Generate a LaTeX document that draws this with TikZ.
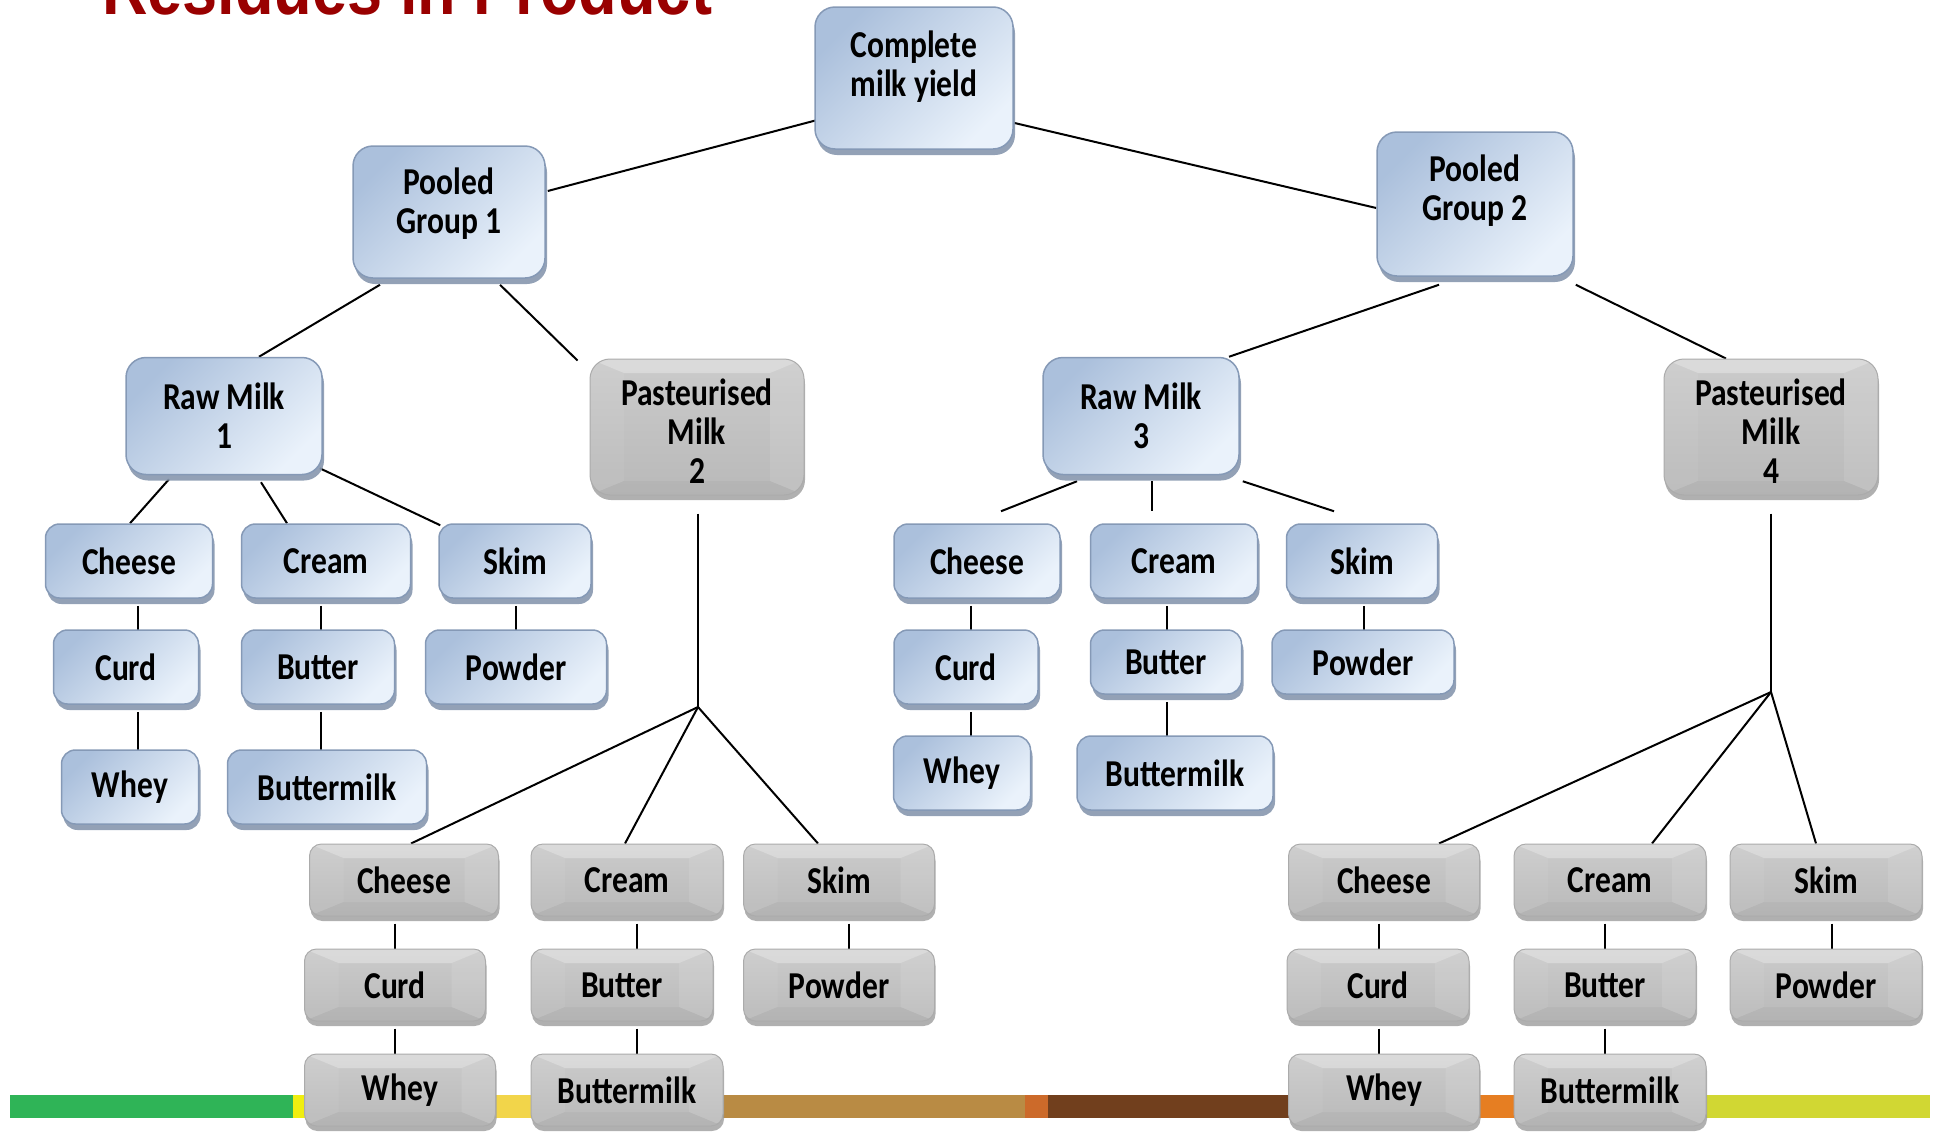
\documentclass[tikz,border=0pt]{standalone}
\usepackage{fontspec}
\setmainfont{Carlito}[FakeStretch=0.83]
\newfontfamily\headfont{Liberation Sans}[FakeStretch=0.83]
\usetikzlibrary{calc,shadows,backgrounds}

\definecolor{titleRed}{HTML}{990000}
\definecolor{blueDark}{HTML}{ABC0DC}
\definecolor{blueLight}{HTML}{EAF2FB}
\definecolor{blueRim}{HTML}{8599B6}
\definecolor{blueShadow}{HTML}{8797AE}
\definecolor{greyTop}{HTML}{CBCBCB}
\definecolor{greyBottom}{HTML}{B9B9B9}
\definecolor{greyRim}{HTML}{ABABAB}
\definecolor{greyShadow}{HTML}{9C9C9C}
\definecolor{barGreen}{HTML}{2FB457}
\definecolor{barYellow}{HTML}{F0EE10}
\definecolor{barLightYellow}{HTML}{F2D54A}
\definecolor{barTan}{HTML}{B98B44}
\definecolor{barOrange}{HTML}{CC6A2A}
\definecolor{barBrown}{HTML}{713F1D}
\definecolor{barOrangeB}{HTML}{E67E22}
\definecolor{barLime}{HTML}{D1D733}

\newcommand{\vlink}[3]{%
  \draw ([xshift=#3pt,yshift=-7pt]#1.south) -- ([xshift=#3pt,yshift=-7pt]#1.south |- #2.north);}

\tikzset{
  boxtext/.style={font=\fontsize{38}{39}\selectfont\bfseries, align=center,
    inner sep=0pt, text=black},
  wd/.style={minimum width=#1pt},
  ht/.style={minimum height=#1pt},
  bluebox/.style={boxtext, rounded corners=14pt, draw=blueRim, line width=1.5pt,
    left color=blueDark, right color=blueLight, shading angle=45,
    drop shadow={shadow xshift=2pt, shadow yshift=-6pt, fill=blueShadow, opacity=0.9}},
  bigblue/.style={bluebox, rounded corners=20pt},
  smallblue/.style={bluebox, ht=74},
  greybox/.style={boxtext, rounded corners=12pt, draw=greyRim, line width=1pt,
    top color=greyTop, bottom color=greyBottom,
    drop shadow={shadow xshift=1pt, shadow yshift=-5pt, fill=greyShadow, opacity=0.8},
    path picture={
      \fill[sharp corners, white, opacity=.30]
        (path picture bounding box.north west) -- (path picture bounding box.north east)
        -- ([xshift=-34pt,yshift=-14pt]path picture bounding box.north east)
        -- ([xshift=34pt,yshift=-14pt]path picture bounding box.north west) -- cycle;
      \fill[sharp corners, white, opacity=.10]
        (path picture bounding box.north east)
        -- ([xshift=-34pt,yshift=-14pt]path picture bounding box.north east)
        -- ([xshift=-34pt,yshift=14pt]path picture bounding box.south east)
        -- (path picture bounding box.south east) -- cycle;
      \fill[sharp corners, white, opacity=.06]
        (path picture bounding box.north west)
        -- ([xshift=34pt,yshift=-14pt]path picture bounding box.north west)
        -- ([xshift=34pt,yshift=14pt]path picture bounding box.south west)
        -- (path picture bounding box.south west) -- cycle;
      \fill[sharp corners, black, opacity=.03]
        (path picture bounding box.south west) -- (path picture bounding box.south east)
        -- ([xshift=-34pt,yshift=14pt]path picture bounding box.south east)
        -- ([xshift=34pt,yshift=14pt]path picture bounding box.south west) -- cycle;
    }},
  biggrey/.style={greybox, rounded corners=20pt},
  smallgrey/.style={greybox, ht=72},
  link/.style={draw=black, line width=2pt},
}

\begin{document}
\begin{tikzpicture}[x=1pt, y=-1pt]
\useasboundingbox (0,0) rectangle (1937,1138);

% heading, cut by the top edge
\node[anchor=base west, inner sep=0pt, text=titleRed,
      font=\headfont\fontsize{76}{80}\selectfont\bfseries] (title) at (102,14)
      {Residues in Product};

% ---- top levels
\node[bigblue, wd=198, ht=142, text depth=29pt] (cmy)  at (914,78)   {Complete\\milk yield};
\node[bigblue, wd=192, ht=132, text depth=23pt] (pg1)  at (449,212)  {Pooled\\Group 1};
\node[bigblue, wd=196, ht=144, text depth=33pt] (pg2)  at (1475,204) {Pooled\\Group 2};
\node[bigblue, wd=196, ht=117] (raw1) at (224,416)  {Raw Milk\\1};
\node[bigblue, wd=196, ht=117] (raw3) at (1141,416) {Raw Milk\\3};
\node[biggrey, wd=214, ht=136, text height=113pt] (past2) at (697,427)  {Pasteurised\\Milk\\2};
\node[biggrey, wd=214, ht=136, text height=113pt] (past4) at (1771,427) {Pasteurised\\Milk\\4};

% ---- raw milk 1 products
\node[smallblue, wd=167] (cheese1) at (129,561) {Cheese};
\node[smallblue, wd=169] (cream1)  at (326,561) {Cream};
\node[smallblue, wd=152] (skim1)   at (515,561) {Skim};
\node[smallblue, wd=145] (curd1)   at (126,667) {Curd};
\node[smallblue, wd=153] (butter1) at (318,667) {Butter};
\node[smallblue, wd=181] (powder1) at (516,667) {Powder};
\node[smallblue, wd=137] (whey1)   at (130,787) {Whey};
\node[smallblue, wd=199] (bmilk1)  at (327,787) {Buttermilk};

% ---- raw milk 3 products
\node[smallblue, wd=166] (cheese3) at (977,561)  {Cheese};
\node[smallblue, wd=167] (cream3)  at (1174,561) {Cream};
\node[smallblue, wd=151] (skim3)   at (1362,561) {Skim};
\node[smallblue, wd=144] (curd3)   at (966,667)  {Curd};
\node[smallblue, wd=151, ht=64] (butter3) at (1166,662) {Butter};
\node[smallblue, wd=182, ht=64] (powder3) at (1363,662) {Powder};
\node[smallblue, wd=137] (whey3)   at (962,773)  {Whey};
\node[smallblue, wd=196] (bmilk3)  at (1175,773) {Buttermilk};

% ---- pasteurised milk 2 products
\node[smallgrey, wd=189] (cheese2) at (404,880)  {Cheese};
\node[smallgrey, wd=192] (cream2)  at (627,880)  {Cream};
\node[smallgrey, wd=191] (skim2)   at (839,880)  {Skim};
\node[smallgrey, wd=181] (curd2)   at (395,985)  {Curd};
\node[smallgrey, wd=182] (butter2) at (622,985)  {Butter};
\node[smallgrey, wd=191] (powder2) at (839,985)  {Powder};
\node[smallgrey, wd=191] (whey2)   at (400,1090) {Whey};
\node[smallgrey, wd=192] (bmilk2)  at (627,1090) {Buttermilk};

% ---- pasteurised milk 4 products
\node[smallgrey, wd=191] (cheese4) at (1384,880)  {Cheese};
\node[smallgrey, wd=192] (cream4)  at (1610,880)  {Cream};
\node[smallgrey, wd=192] (skim4)   at (1826,880)  {Skim};
\node[smallgrey, wd=182] (curd4)   at (1378,985)  {Curd};
\node[smallgrey, wd=182] (butter4) at (1605,985)  {Butter};
\node[smallgrey, wd=192] (powder4) at (1826,985)  {Powder};
\node[smallgrey, wd=191] (whey4)   at (1384,1090) {Whey};
\node[smallgrey, wd=192] (bmilk4)  at (1610,1090) {Buttermilk};

\coordinate (j2) at (698,707);
\coordinate (j4) at (1771,692);

\begin{scope}[on background layer]
  % colour band along the bottom
  \fill[barGreen]       (10,1095)   rectangle (293,1118);
  \fill[barYellow]      (293,1095)  rectangle (400,1118);
  \fill[barLightYellow] (400,1095)  rectangle (650,1118);
  \fill[barTan]         (650,1095)  rectangle (1025,1118);
  \fill[barOrange]      (1025,1095) rectangle (1048,1118);
  \fill[barBrown]       (1048,1095) rectangle (1380,1118);
  \fill[barOrangeB]     (1380,1095) rectangle (1610,1118);
  \fill[barLime]        (1610,1095) rectangle (1930,1118);

  \begin{scope}[link]
  % upper tree
  \draw ($(cmy.west)+(3,42)$)  -- ($(pg1.east)+(2,-21)$);
  \draw ($(cmy.east)+(-12,42)$) -- ($(pg2.west)+(0,4)$);
  \draw ($(pg1.south)+(-69,6)$) -- ($(raw1.north)+(35,0)$);
  \draw ($(pg1.south)+(51,6)$)  -- ($(past2.north west)+(-12,2)$);
  \draw ($(pg2.south)+(-36,8)$) -- ($(raw3.north)+(88,0)$);
  \draw ($(pg2.south east)+(2,8)$) -- ($(past4.north)+(-45,0)$);

  % raw milk 1
  \draw ($(raw1.south)+(-55,4)$) -- ($(cheese1.north)+(1,0)$);
  \draw ($(raw1.south)+(37,7)$)  -- ($(cream1.north)+(-39,0)$);
  \draw ($(raw1.south east)+(-3,-7)$) -- ($(skim1.north west)+(2,2)$);
  \vlink{cheese1}{curd1}{9}
  \vlink{curd1}{whey1}{12}
  \vlink{cream1}{butter1}{-5}
  \vlink{butter1}{bmilk1}{3}
  \vlink{skim1}{powder1}{1}

  % raw milk 3
  \draw ($(raw3.south)+(-64,6)$) -- ($(cheese3.north)+(24,-12)$);
  \draw ($(raw3.south)+(11,6)$)  -- ($(cream3.north)+(-22,-12)$);
  \draw ($(raw3.south east)+(3,6)$) -- ($(skim3.north)+(-28,-12)$);
  \vlink{cheese3}{curd3}{-6}
  \vlink{curd3}{whey3}{5}
  \vlink{cream3}{butter3}{-7}
  \vlink{butter3}{bmilk3}{1}
  \vlink{skim3}{powder3}{2}

  % pasteurised milk 2
  \draw ($(past2.south)+(1,18)$) -- (j2);
  \draw (j2) -- ($(cheese2.north)+(7,0)$);
  \draw (j2) -- ($(cream2.north)+(-2,0)$);
  \draw (j2) -- ($(skim2.north)+(-21,0)$);
  \vlink{cheese2}{curd2}{-9}
  \vlink{curd2}{whey2}{0}
  \vlink{cream2}{butter2}{10}
  \vlink{butter2}{bmilk2}{15}
  \vlink{skim2}{powder2}{10}

  % pasteurised milk 4
  \draw ($(past4.south)+(0,18)$) -- (j4);
  \draw (j4) -- ($(cheese4.north)+(55,0)$);
  \draw (j4) -- ($(cream4.north)+(42,0)$);
  \draw (j4) -- ($(skim4.north)+(-10,0)$);
  \vlink{cheese4}{curd4}{-5}
  \vlink{curd4}{whey4}{1}
  \vlink{cream4}{butter4}{-5}
  \vlink{butter4}{bmilk4}{0}
  \vlink{skim4}{powder4}{6}
  \end{scope}
\end{scope}
\end{tikzpicture}
\end{document}
